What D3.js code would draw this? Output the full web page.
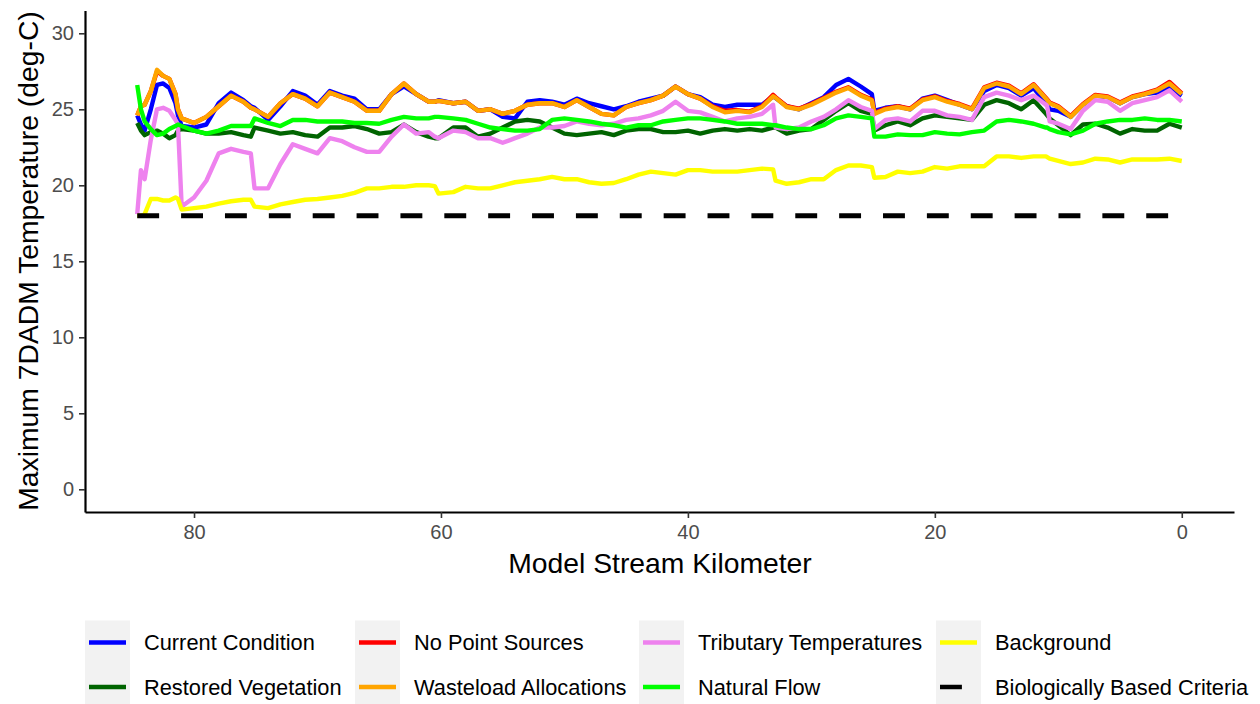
<!DOCTYPE html>
<html>
<head>
<meta charset="utf-8">
<script src="https://cdn.jsdelivr.net/npm/d3@7"></script>
<style>
  body { margin: 0; background: #fff; }
  svg { display: block; font-family: "Liberation Sans", Arial, sans-serif; }
</style>
</head>
<body>
<div id="chart"></div>
<script>
// model stream kilometer (shared by all series)
const km = [84.6, 84.3, 84, 83.5, 83, 82.5, 82, 81.5, 81.3, 81,
  80, 79, 78, 77, 76, 75.4, 75.1,
  74, 73, 72, 71, 70, 69, 68, 67, 66, 65, 64, 63, 62, 61,
  60.5, 60.2,
  59, 58, 57, 56, 55, 54, 53, 52, 51, 50, 49, 48, 47, 46, 45, 44, 43, 42, 41, 40, 39, 38, 37, 36, 35, 34,
  33.1, 32.9,
  32, 31, 30, 29, 28, 27, 26,
  25.1, 24.9,
  24, 23, 22, 21, 20, 19, 18, 17, 16, 15, 14, 13, 12, 11,
  10.9, 10.7,
  10, 9, 8, 7, 6, 5, 4, 3, 2, 1, 0];

const currentCondition = [24.6, 24.0, 23.6, 25.0, 26.6, 26.7, 26.4, 25.4, 24.6, 23.9,
  23.8, 24.0, 25.4, 26.1, 25.6, 25.2, 25.1,
  24.3, 25.2, 26.2, 25.9, 25.3, 26.2, 25.9, 25.7, 25.0, 25.0, 26.0, 26.5, 26.0, 25.5,
  25.5, 25.6,
  25.4, 25.5, 24.9, 25.0, 24.5, 24.4, 25.5, 25.6, 25.5, 25.3, 25.7, 25.4, 25.2, 25.0, 25.2, 25.5, 25.7, 25.9, 26.5, 26.0, 25.8, 25.3, 25.15, 25.3, 25.3, 25.3,
  25.85, 25.75,
  25.2, 25.0, 25.4, 25.8, 26.6, 27.0, 26.5,
  26.0, 24.9,
  25.1, 25.2, 25.0, 25.7, 25.9, 25.6, 25.3, 25.0, 26.2, 26.6, 26.4, 25.9, 26.4, 25.4,
  25.3, 25.0,
  24.9, 24.5, 25.3, 25.9, 25.8, 25.4, 25.8, 26.0, 26.1, 26.4, 25.9];

const restoredVegetation = [24.1, 23.6, 23.3, 23.5, 23.6, 23.4, 23.1, 23.3, 23.6, 23.7,
  23.6, 23.4, 23.4, 23.5, 23.3, 23.2, 23.8,
  23.6, 23.4, 23.5, 23.3, 23.2, 23.8, 23.8, 23.9, 23.7, 23.4, 23.5, 24.0, 23.5, 23.2,
  23.1, 23.1,
  23.8, 23.8, 23.2, 23.4, 23.8, 24.2, 24.3, 24.2, 23.8, 23.4, 23.3, 23.4, 23.5, 23.3, 23.6, 23.7, 23.7, 23.5, 23.5, 23.6, 23.4, 23.6, 23.7, 23.6, 23.7, 23.6,
  23.8, 23.8,
  23.4, 23.6, 23.7, 24.3, 24.9, 25.4, 24.9,
  24.7, 23.6,
  23.95, 24.2, 23.95, 24.4, 24.6, 24.5, 24.4, 24.3, 25.3, 25.6, 25.4, 25.0, 25.6, 24.7,
  24.6, 24.4,
  23.95, 23.3, 24.0, 24.05, 23.8, 23.4, 23.7, 23.6, 23.6, 24.05, 23.8];

const noPointSources = [24.6, 25.2, 25.3, 26.2, 27.5, 27.2, 27.0, 26.0, 25.0, 24.4,
  24.1, 24.5, 25.2, 25.9, 25.5, 25.1, 25.0,
  24.5, 25.4, 26.0, 25.7, 25.2, 26.1, 25.8, 25.5, 24.9, 24.9, 26.0, 26.7, 26.0, 25.5,
  25.5, 25.55,
  25.4, 25.5, 24.9, 25.0, 24.7, 24.9, 25.3, 25.4, 25.4, 25.15, 25.6, 25.15, 24.7, 24.6, 25.15, 25.4, 25.6, 25.9, 26.5, 26.0, 25.7, 25.2, 24.9, 24.95, 24.85, 25.2,
  25.95, 25.8,
  25.2, 25.05, 25.35, 25.75, 26.15, 26.45, 25.95,
  25.65, 24.75,
  25.05, 25.2, 25.05, 25.65, 25.85, 25.55, 25.35, 25.05, 26.45, 26.75, 26.55, 26.05, 26.65, 25.75,
  25.65, 25.45,
  25.2, 24.55, 25.35, 25.95, 25.85, 25.45, 25.85, 26.05, 26.3, 26.8, 26.05];

const wasteloadAllocations = [24.6, 25.2, 25.3, 26.2, 27.6, 27.2, 27.0, 26.0, 25.0, 24.4,
  24.1, 24.5, 25.2, 25.9, 25.5, 25.1, 25.0,
  24.5, 25.4, 26.0, 25.7, 25.2, 26.1, 25.8, 25.5, 24.9, 24.9, 26.0, 26.7, 26.0, 25.5,
  25.5, 25.55,
  25.4, 25.5, 24.9, 25.0, 24.7, 24.9, 25.3, 25.4, 25.4, 25.15, 25.6, 25.15, 24.7, 24.6, 25.15, 25.4, 25.6, 25.9, 26.5, 26.0, 25.7, 25.15, 24.8, 24.9, 24.8, 25.15,
  25.85, 25.75,
  25.15, 25.0, 25.3, 25.7, 26.1, 26.4, 25.9,
  25.6, 24.7,
  25.0, 25.15, 25.0, 25.6, 25.8, 25.5, 25.3, 25.0, 26.4, 26.7, 26.5, 26.0, 26.6, 25.7,
  25.6, 25.4,
  25.15, 24.5, 25.3, 25.9, 25.8, 25.4, 25.8, 26.0, 26.25, 26.7, 26.0];

const tributaryTemperatures = [18.1, 21.0, 20.4, 23.0, 25.0, 25.1, 24.9, 24.3, 24.0, 18.6,
  19.2, 20.3, 22.1, 22.4, 22.2, 22.1, 19.8,
  19.8, 21.4, 22.7, 22.4, 22.1, 23.1, 22.9, 22.5, 22.2, 22.2, 23.2, 24.0, 23.4, 23.5,
  23.2, 23.1,
  23.6, 23.5, 23.1, 23.1, 22.8, 23.1, 23.4, 23.8, 23.8, 23.9, 24.2, 24.05, 23.95, 24.05, 24.3, 24.4, 24.6, 24.9, 25.5, 24.9, 24.8, 24.5, 24.2, 24.4, 24.5, 24.7,
  25.3, 23.8,
  23.7, 23.8, 24.2, 24.5, 25.0, 25.6, 25.15,
  24.9, 23.7,
  24.3, 24.4, 24.2, 24.9, 24.9, 24.6, 24.5, 24.3, 25.8, 26.1, 25.9, 25.6, 25.9, 25.3,
  25.2, 24.2,
  24.05, 23.7, 24.9, 25.6, 25.5, 24.9, 25.4, 25.6, 25.8, 26.25, 25.5];

const naturalFlow = [26.6, 25.0, 24.2, 23.7, 23.3, 23.4, 23.7, 23.9, 24.0, 23.9,
  23.6, 23.4, 23.6, 23.9, 23.9, 23.9, 24.4,
  24.1, 23.9, 24.3, 24.3, 24.2, 24.2, 24.2, 24.1, 24.1, 24.05, 24.3, 24.5, 24.4, 24.4,
  24.5, 24.5,
  24.4, 24.3, 24.05, 23.8, 23.7, 23.6, 23.6, 23.7, 24.3, 24.4, 24.3, 24.2, 24.05, 23.95, 23.8, 23.95, 23.95, 24.2, 24.3, 24.4, 24.4, 24.3, 24.2, 24.05, 24.05, 24.05,
  23.95, 23.95,
  23.8, 23.7, 23.7, 23.95, 24.4, 24.6, 24.5,
  24.4, 23.2,
  23.2, 23.35, 23.3, 23.3, 23.5, 23.4, 23.35, 23.5, 23.6, 24.2, 24.3, 24.2, 24.05, 23.8,
  23.8, 23.7,
  23.5, 23.35, 23.6, 24.05, 24.2, 24.3, 24.3, 24.4, 24.3, 24.3, 24.2];

const background = [18.0, 18.0, 18.1, 19.1, 19.1, 19.0, 19.0, 19.2, 19.1, 18.4,
  18.5, 18.6, 18.8, 18.95, 19.05, 19.05, 18.6,
  18.5, 18.75, 18.9, 19.05, 19.1, 19.2, 19.3, 19.5, 19.8, 19.8, 19.9, 19.9, 20.0, 20.0,
  19.95, 19.45,
  19.55, 19.9, 19.8, 19.8, 20.0, 20.2, 20.3, 20.4, 20.55, 20.4, 20.4, 20.2, 20.1, 20.15, 20.4, 20.7, 20.9, 20.8, 20.7, 21.0, 21.0, 20.9, 20.9, 20.9, 21.0, 21.1,
  21.05, 20.3,
  20.1, 20.2, 20.4, 20.4, 21.0, 21.3, 21.3,
  21.2, 20.5,
  20.55, 20.9, 20.8, 20.9, 21.2, 21.1, 21.25, 21.25, 21.25, 21.9, 21.9, 21.8, 21.9, 21.9,
  21.85, 21.75,
  21.6, 21.4, 21.5, 21.75, 21.7, 21.5, 21.7, 21.7, 21.7, 21.75, 21.6];

// biologically based criteria: flat line across the modelled reach
const criteriaKm = [84.6, 0];
const criteria = [18, 18];

const xTicks = [80, 60, 40, 20, 0];
const yTicks = [0, 5, 10, 15, 20, 25, 30];

const series = [
  { name: "Current Condition", km: km, values: currentCondition, color: "blue" },
  { name: "Restored Vegetation", km: km, values: restoredVegetation, color: "darkgreen" },
  { name: "No Point Sources", km: km, values: noPointSources, color: "red" },
  { name: "Wasteload Allocations", km: km, values: wasteloadAllocations, color: "orange" },
  { name: "Tributary Temperatures", km: km, values: tributaryTemperatures, color: "violet" },
  { name: "Natural Flow", km: km, values: naturalFlow, color: "#00FF00" },
  { name: "Background", km: km, values: background, color: "yellow" },
  { name: "Biologically Based Criteria", km: criteriaKm, values: criteria, color: "black", dash: "21.9,21.97" }
];

const width = 1260, height = 704;
const svg = d3.select("#chart").append("svg")
  .attr("width", width)
  .attr("height", height);

// panel limits (ggplot style 5% expansion)
const x = d3.scaleLinear().domain([88.83, -4.23]).range([85, 1234]);
const y = d3.scaleLinear().domain([-1.5, 31.5]).range([512.1, 10.5]);

// lines
const line = d3.line()
  .x(d => x(d[0]))
  .y(d => y(d[1]));

series.forEach(function (s) {
  const pts = s.km.map((k, i) => [k, s.values[i]]);
  svg.append("path")
    .datum(pts)
    .attr("d", line)
    .attr("fill", "none")
    .attr("stroke", s.color)
    .attr("stroke-width", s.dash ? 5 : 4.4)
    .attr("stroke-linejoin", "round")
    .attr("stroke-dasharray", s.dash || null);
});

// axes
const xAxis = svg.append("g")
  .attr("transform", "translate(0,512)")
  .call(d3.axisBottom(x).tickValues(xTicks).tickSize(6).tickPadding(7).tickSizeOuter(0));
const yAxis = svg.append("g")
  .attr("transform", "translate(85,0)")
  .call(d3.axisLeft(y).tickValues(yTicks).tickSize(6).tickPadding(5).tickSizeOuter(0));

[xAxis, yAxis].forEach(function (g) {
  g.select(".domain").attr("stroke", "black").attr("stroke-width", 2.2);
  g.selectAll(".tick line").attr("stroke", "#333333").attr("stroke-width", 1.6);
  g.selectAll(".tick text")
    .attr("fill", "#4D4D4D")
    .style("font-size", "20px")
    .style("font-family", "'Liberation Sans', Arial, sans-serif");
});

// axis titles
svg.append("text")
  .attr("x", 660)
  .attr("y", 573)
  .attr("text-anchor", "middle")
  .style("font-size", "28.3px")
  .text("Model Stream Kilometer");

svg.append("text")
  .attr("transform", "translate(38,261) rotate(-90)")
  .attr("text-anchor", "middle")
  .style("font-size", "28.3px")
  .text("Maximum 7DADM Temperature (deg-C)");

// legend: 2 rows x 4 columns, filled by column
const legendCols = [85, 355, 639, 936];
const legendRows = [642.5, 687];
const legend = svg.append("g");

series.forEach(function (s, i) {
  const col = Math.floor(i / 2);
  const row = i % 2;
  const lx = legendCols[col];
  const ly = legendRows[row];
  legend.append("rect")
    .attr("x", lx)
    .attr("y", ly - 22)
    .attr("width", 45)
    .attr("height", 45)
    .attr("fill", "#F2F2F2");
  legend.append("line")
    .attr("x1", lx + 4)
    .attr("x2", lx + 41)
    .attr("y1", ly)
    .attr("y2", ly)
    .attr("stroke", s.color)
    .attr("stroke-width", 4.5)
    .attr("stroke-dasharray", s.dash || null);
  legend.append("text")
    .attr("x", lx + 59)
    .attr("y", ly)
    .attr("dy", "0.35em")
    .style("font-size", "21.8px")
    .text(s.name);
});
</script>
</body>
</html>
